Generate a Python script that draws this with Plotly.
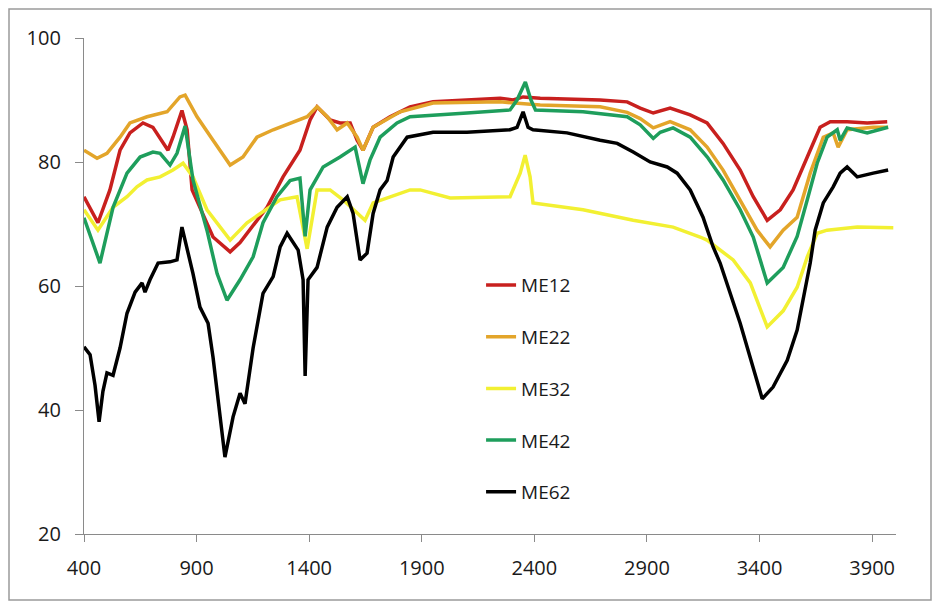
import plotly.graph_objects as go

# ---- data ----
me12_x = [400, 462, 515, 560, 604, 662, 706, 773, 795, 835, 858, 880, 973, 1049, 1093, 1213, 1284, 1359, 1404, 1435,
          1493, 1537, 1582, 1613, 1639, 1684, 1759, 1848, 1950, 2248, 2306, 2350, 2426, 2692, 2812, 2870, 2928, 3003,
          3092, 3167, 3238, 3314, 3372, 3434, 3492, 3549, 3612, 3669, 3714, 3789, 3878, 3967]
me12_y = [74.4, 70.2, 75.5, 81.9, 84.7, 86.3, 85.6, 81.9, 84.0, 88.3, 85.2, 75.5, 67.9, 65.5, 67.0, 72.7, 77.6, 81.9, 86.8, 88.9,
          86.8, 86.3, 86.3, 83.5, 81.9, 85.6, 87.3, 88.9, 89.7, 90.3, 90.0, 90.5, 90.3, 90.0, 89.7, 88.7, 87.9, 88.7,
          87.6, 86.3, 83.0, 78.7, 74.4, 70.6, 72.3, 75.5, 80.8, 85.6, 86.5, 86.5, 86.3, 86.5]

me22_x = [400, 458, 502, 560, 604, 680, 769, 826, 849, 902, 973, 1049, 1106, 1168, 1240, 1315, 1391, 1435, 1480, 1524,
          1569, 1613, 1639, 1684, 1804, 1950, 2248, 2426, 2692, 2812, 2870, 2928, 3003, 3092, 3167, 3238, 3314, 3389,
          3447, 3505, 3567, 3625, 3683, 3727, 3749, 3789, 3905, 3971]
me22_y = [81.9, 80.6, 81.4, 84.0, 86.3, 87.3, 88.1, 90.5, 90.8, 87.3, 83.5, 79.5, 80.8, 84.0, 85.2, 86.3, 87.3, 88.9, 87.3, 85.2,
          86.3, 84.0, 81.9, 85.6, 88.1, 89.5, 89.7, 89.2, 88.9, 88.0, 87.0, 85.5, 86.5, 85.2, 82.4, 78.7, 73.9, 69.0,
          66.3, 69.0, 71.1, 78.2, 84.0, 84.7, 82.4, 85.2, 85.6, 85.6]

me32_x = [400, 462, 529, 591, 635, 680, 738, 795, 840, 884, 946, 1004, 1049, 1124, 1182, 1271, 1346, 1391, 1435, 1493,
          1550, 1613, 1648, 1684, 1759, 1848, 1893, 2026, 2292, 2337, 2359, 2381, 2394, 2616, 2839, 3016, 3136, 3167,
          3283, 3359, 3434, 3505, 3567, 3612, 3656, 3700, 3834, 3994]
me32_y = [72.3, 69.0, 72.7, 74.4, 76.0, 77.1, 77.6, 78.7, 79.8, 77.6, 72.3, 69.5, 67.4, 70.2, 71.7, 73.9, 74.4, 66.0, 75.5, 75.5,
          73.9, 71.7, 70.6, 73.4, 74.4, 75.5, 75.5, 74.2, 74.4, 78.2, 81.1, 77.6, 73.4, 72.3, 70.6, 69.5, 67.9, 67.4,
          64.2, 60.5, 53.4, 56.0, 59.8, 64.7, 68.5, 69.0, 69.5, 69.4]

me42_x = [400, 471, 529, 591, 649, 706, 738, 782, 813, 849, 884, 946, 991, 1035, 1093, 1151, 1195, 1257, 1315, 1359,
          1382, 1404, 1462, 1537, 1604, 1639, 1670, 1715, 1790, 1848, 2101, 2292, 2323, 2360, 2385, 2405, 2616, 2812,
          2870, 2928, 2959, 3016, 3092, 3168, 3238, 3314, 3372, 3434, 3505, 3567, 3612, 3656, 3700, 3745, 3758, 3789,
          3878, 3971]
me42_y = [71.0, 63.7, 72.7, 78.2, 80.8, 81.6, 81.4, 79.5, 81.4, 85.8, 77.1, 69.0, 62.0, 57.7, 61.0, 64.7, 70.2, 74.4, 77.0, 77.4,
          68.0, 75.5, 79.2, 80.8, 82.4, 76.5, 80.3, 84.0, 86.3, 87.3, 87.9, 88.4, 90.0, 92.9, 90.0, 88.4, 88.1, 87.3,
          86.0, 83.8, 84.8, 85.5, 84.0, 80.8, 77.1, 72.3, 67.9, 60.5, 63.0, 68.0, 73.9, 79.8, 84.0, 85.2, 83.5, 85.5,
          84.7, 85.6]

me62_x = [400, 427, 449, 467, 484, 502, 529, 560, 591, 627, 658, 671, 693, 729, 782, 813, 835, 858, 884, 915,
          951, 973, 995, 1026, 1062, 1093, 1115, 1137, 1151, 1195, 1240, 1271, 1302, 1351, 1373, 1382, 1395, 1435, 1480,
          1524, 1569, 1595, 1626, 1657, 1684, 1715, 1746, 1773, 1804, 1835, 1950, 2101, 2292, 2323, 2350, 2372, 2394,
          2545, 2692, 2768, 2839, 2914, 2990, 3034, 3092, 3149, 3194, 3225, 3314, 3372, 3412, 3460, 3523, 3567, 3594,
          3625, 3647, 3683, 3727, 3758, 3789, 3834, 3905, 3971]
me62_y = [50.2, 48.9, 44.0, 38.1, 43.0, 46.0, 45.6, 50.0, 55.6, 59.0, 60.5, 59.0, 61.0, 63.7, 63.9, 64.2, 69.5, 66.0, 62.0, 56.6,
          54.0, 48.5, 42.0, 32.4, 38.9, 42.7, 41.0, 46.5, 50.0, 58.8, 61.5, 66.3, 68.5, 65.8, 61.0, 45.5, 61.0, 63.0, 69.5,
          72.7, 74.4, 71.7, 64.2, 65.3, 71.7, 75.5, 77.0, 80.8, 82.4, 84.0, 84.8, 84.8, 85.2, 85.6, 88.1, 85.6, 85.2,
          84.7, 83.5, 83.0, 81.6, 80.0, 79.2, 78.2, 75.5, 71.1, 66.3, 63.7, 54.0, 46.5, 41.8, 43.7, 48.0, 52.9, 58.2,
          63.7, 69.0, 73.4, 76.0, 78.2, 79.2, 77.6, 78.2, 78.7]

x_ticks = [400, 900, 1400, 1900, 2400, 2900, 3400, 3900]
y_ticks = [20, 40, 60, 80, 100]

series = [
    ("ME12", me12_x, me12_y, "#C8201E"),
    ("ME22", me22_x, me22_y, "#E3A52A"),
    ("ME32", me32_x, me32_y, "#F2F032"),
    ("ME42", me42_x, me42_y, "#1E9E5C"),
    ("ME62", me62_x, me62_y, "#000000"),
]

fig = go.Figure()
for name, xs, ys, col in series:
    fig.add_trace(go.Scatter(x=xs, y=ys, mode="lines", name=name, legendgroup=name,
                             line=dict(color=col, width=3.5)))

font_family = "Open Sans, Liberation Sans, sans-serif"
fig.update_layout(
    width=940, height=602,
    margin=dict(l=84, r=44, t=38, b=68),
    paper_bgcolor="white", plot_bgcolor="white",
    font=dict(family=font_family, color="#1a1a1a", size=20),
    showlegend=True,
    legend=dict(x=0.489, y=0.54, xanchor="left", yanchor="top",
                font=dict(size=19, color="#1a1a1a"), tracegroupgap=24,
                bgcolor="rgba(255,255,255,0)", traceorder="grouped"),
    xaxis=dict(range=[400, 4006], tickmode="array", tickvals=x_ticks,
               ticktext=[str(v) for v in x_ticks],
               showgrid=False, zeroline=False, showline=True, linecolor="#8a8a8a", linewidth=1.2,
               ticks="outside", ticklen=7, tickcolor="#8a8a8a", ticklabelstandoff=9,
               tickfont=dict(size=20, color="#1a1a1a")),
    yaxis=dict(range=[20, 100], tickmode="array", tickvals=y_ticks,
               showgrid=False, zeroline=False, showline=True, linecolor="#8a8a8a", linewidth=1.2,
               ticks="outside", ticklen=8, tickcolor="#8a8a8a", ticklabelstandoff=10,
               tickfont=dict(size=20, color="#1a1a1a")),
    shapes=[dict(type="rect", xref="paper", yref="paper",
                 x0=(9 - 84) / 812, x1=(931 - 84) / 812,
                 y0=1 - (600 - 38) / 496, y1=1 - (9 - 38) / 496,
                 line=dict(color="#9a9a9a", width=1.5), fillcolor="rgba(0,0,0,0)", layer="below")],
)

fig.write_html("out.html")
